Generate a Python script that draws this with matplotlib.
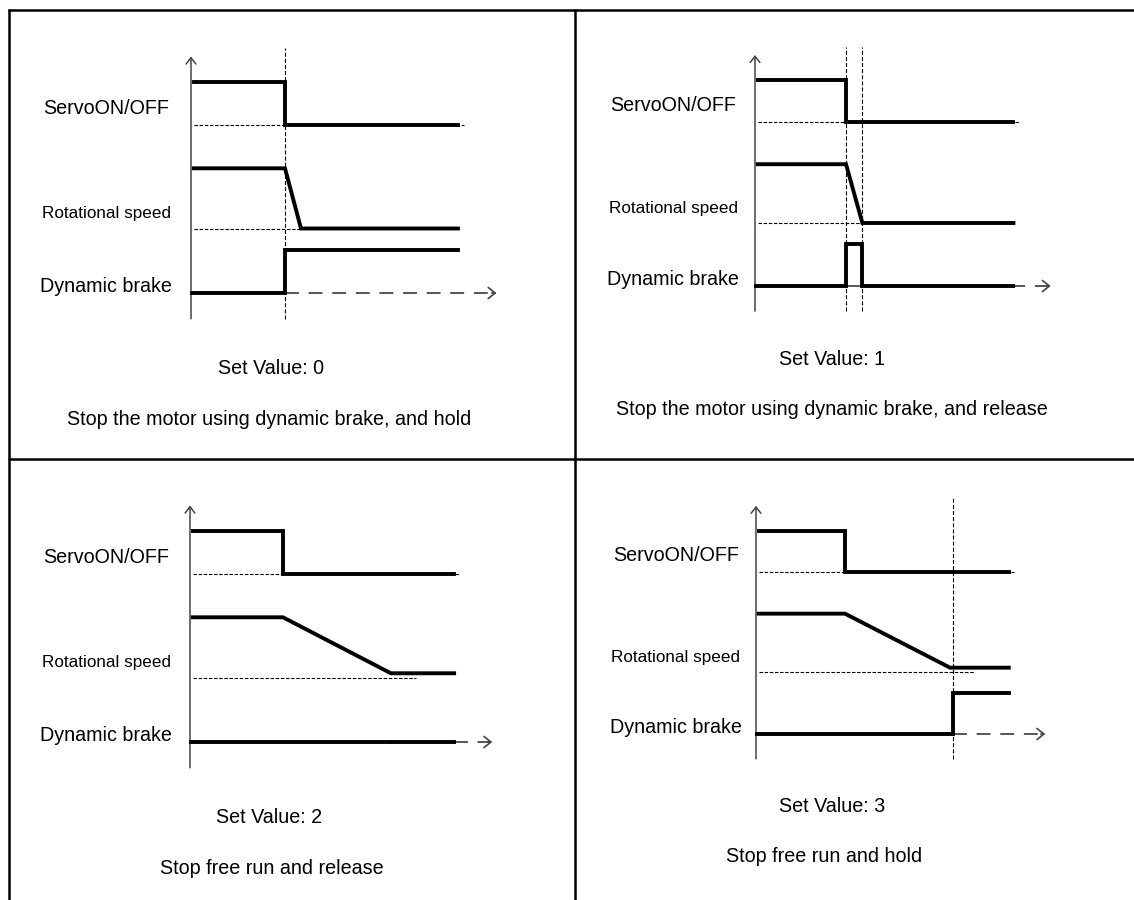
"""
Servo stop modes - timing diagrams (Set Value 0..3)
"""

import matplotlib
matplotlib.use("Agg")
import matplotlib.pyplot as plt
import numpy as np

plt.rcParams["font.family"] = ["Liberation Sans", "DejaVu Sans"]
plt.rcParams["lines.scale_dashes"] = False

# ---------------------------------------------------------------------------
# Data: times are relative to the ServoOFF instant (t = 1), levels 0..1
# ---------------------------------------------------------------------------
set_values = ["Set Value: 0", "Set Value: 1", "Set Value: 2", "Set Value: 3"]
captions = [
    "Stop the motor using dynamic brake, and hold",
    "Stop the motor using dynamic brake, and release",
    "Stop free run and release",
    "Stop free run and hold",
]
signal_names = ["ServoON/OFF", "Rotational speed", "Dynamic brake"]

t_start = 0.03
t_off = 1.0
t_end = 2.84
t_arrow = 3.25

servo_t = [t_start, t_off, t_off, t_end]
servo_lv = [1, 1, 0, 0]

speed_stop = [1.17, 1.18, 2.16, 2.18]
speed_final = [0.0, 0.0, 0.07, 0.07]
speed_ref_end = [1.17, 1.18, 2.43, 2.45]

brake_t = [
    [0.01, 1.0, 1.0, t_end],
    [0.01, 1.0, 1.0, 1.18, 1.18, t_end],
    [0.01, 2.15, np.nan, 2.17, t_end],
    [0.01, 2.21, 2.21, t_end],
]
brake_lv = [
    [0, 0, 1, 1],
    [0, 0, 1, 1, 0, 0],
    [0, 0, np.nan, 0, 0],
    [0, 0, 1, 1],
]
brake_dash_start = [1.0, 1.0, 2.84, 2.21]
markers_t = [[1.0], [1.0, 1.18], [], [2.21]]

caption_x = [0.83, 0.85, 0.88, 0.77]

# lane offsets / amplitudes (signal stacking)
SERVO_BASE, SERVO_AMP = 3.9, 1.0
SPEED_BASE, SPEED_AMP = 1.5, 1.4
BRAKE_BASE, BRAKE_AMP = 0.0, 1.0

# panel placement in figure pixels: origin x, baseline y, x scale, y scale
W, H = 1134, 900
panels = [
    (191, 293, 94, 43.0),
    (755, 286, 91, 42.0),
    (190, 742, 93, 43.0),
    (756, 734, 89, 41.5),
]

LW = 2.8
FS = 14.2

fig = plt.figure(figsize=(W / 100, H / 100), dpi=100)

# frame of the 2x2 table
bg = fig.add_axes([0, 0, 1, 1])
bg.set_xlim(0, W)
bg.set_ylim(H, 0)
bg.axis("off")
bg.hlines([10, 459], 8, W, color="black", lw=1.8)
bg.vlines([9, 575], 9, H, color="black", lw=1.8)


def draw_panel(i):
    x0, yb, sx, sy = panels[i]
    ax = fig.add_axes([0, 0, 1, 1])
    ax.set_xlim(-x0 / sx, (W - x0) / sx)
    ax.set_ylim((yb - H) / sy, yb / sy)
    ax.axis("off")
    ax.patch.set_alpha(0)

    # vertical axis with arrow head
    ax.annotate("", xy=(0, 5.5), xytext=(0, -0.6),
                arrowprops=dict(arrowstyle="->,head_length=0.45,head_width=0.35",
                                color="#444444", lw=1.1,
                                shrinkA=0, shrinkB=0))

    # time markers
    for tm in markers_t[i]:
        ax.plot([tm, tm], [-0.6, 5.7], color="black", lw=0.8,
                dashes=(2.9, 1.5), zorder=1)

    # reference (zero) levels
    ax.plot([t_start, t_end + 0.06], [SERVO_BASE, SERVO_BASE], color="black",
            lw=0.8, dashes=(2.5, 1.2), zorder=1)
    ax.plot([t_start, speed_ref_end[i]], [SPEED_BASE, SPEED_BASE],
            color="black", lw=0.8, dashes=(2.5, 1.2), zorder=1)

    # dashed time arrow on the brake lane
    ax.plot([brake_dash_start[i], t_arrow - 0.04], [BRAKE_BASE, BRAKE_BASE],
            color="#555555", lw=1.4, dashes=(10, 7), zorder=1)
    ax.annotate("", xy=(t_arrow, BRAKE_BASE), xytext=(t_arrow - 0.05, BRAKE_BASE),
                arrowprops=dict(arrowstyle="->,head_length=0.5,head_width=0.4",
                                color="#444444", lw=1.2,
                                shrinkA=0, shrinkB=0))

    # ServoON/OFF
    ax.plot(servo_t, SERVO_BASE + SERVO_AMP * np.array(servo_lv),
            color="black", lw=LW, solid_joinstyle="miter", zorder=3)

    # Rotational speed
    sp_t = [t_start, t_off, speed_stop[i], t_end]
    sp_lv = np.array([1, 1, speed_final[i], speed_final[i]])
    ax.plot(sp_t, SPEED_BASE + SPEED_AMP * sp_lv, color="black", lw=LW,
            solid_joinstyle="miter", zorder=3)

    # Dynamic brake
    ax.plot(brake_t[i], BRAKE_BASE + BRAKE_AMP * np.array(brake_lv[i]),
            color="black", lw=LW, solid_joinstyle="miter", zorder=3)

    # labels
    ax.text(-0.9, 4.3, signal_names[0], ha="center", va="center", fontsize=FS)
    ax.text(-0.9, 1.85, signal_names[1], ha="center", va="center", fontsize=12.3)
    ax.text(-0.9, 0.15, signal_names[2], ha="center", va="center", fontsize=FS)

    ax.text(0.85, -1.75, set_values[i], ha="center", va="center", fontsize=FS)
    ax.text(caption_x[i], -2.95, captions[i], ha="center", va="center",
            fontsize=FS)


for i in range(4):
    draw_panel(i)

fig.savefig("out.png", dpi=100)
plt.close(fig)
